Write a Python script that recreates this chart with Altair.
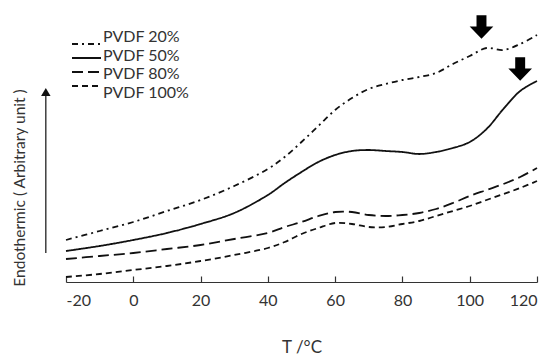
import altair as alt
import pandas as pd

# Temperature grid (°C)
T = [-20, -10, 0, 10, 20, 30, 40, 45, 50, 55, 60, 65, 70, 75, 80, 85, 90, 95, 100, 105, 110, 115, 120]

# Endothermic signal (arbitrary units)
pvdf20 = [42, 51, 60, 71, 82, 96, 113, 125, 140, 156, 172, 184, 193, 198, 202, 205, 209, 218, 226, 234, 232, 238, 247]
pvdf50 = [31, 36, 42, 49, 58, 69, 87, 99, 110, 120, 127, 131, 132, 131, 130, 128, 130, 134, 140, 153, 173, 191, 201]
pvdf80 = [23, 26, 29, 33, 37, 43, 49, 55, 60, 66, 70, 70, 67, 66, 67, 69, 73, 79, 86, 92, 98, 105, 114]
pvdf100 = [5, 8, 12, 16, 21, 27, 34, 40, 48, 54, 59, 58, 55, 55, 58, 61, 66, 71, 76, 82, 88, 94, 101]

series_names = ["PVDF 20%", "PVDF 50%", "PVDF 80%", "PVDF 100%"]
series_values = [pvdf20, pvdf50, pvdf80, pvdf100]
dashes = [[6, 4, 2, 4], [1, 0], [11, 5], [6, 4]]

# Peak markers (arrows)
arrow_T = [103.5, 115]
arrow_y = [255, 213]

# x tick positions
tick_T = [-20, 0, 20, 40, 60, 80, 100, 120]

# Y-axis direction arrow
yarrow_T = -26.0
yarrow_lo = 29
yarrow_hi = 190

rows = []
for name, vals in zip(series_names, series_values):
    for t, v in zip(T, vals):
        rows.append({"T": t, "v": v, "series": name})
df = pd.DataFrame(rows)

XMIN, XMAX = -20, 120
YMIN, YMAX = 0, 266
PLOT_W, PLOT_H = 471, 266
xs = alt.Scale(domain=[XMIN, XMAX], nice=False, zero=False)
ys = alt.Scale(domain=[YMIN, YMAX], nice=False, zero=False)

TXT = "#333333"
FONT = "Lato"
dash_scale = alt.Scale(domain=series_names, range=dashes)

x_axis = alt.Axis(title="T /\u00b0C", values=tick_T, ticks=False, grid=False,
                  domainColor="#333333", domainWidth=1.2,
                  labelExpr="replace(datum.label, '\u2212', '-')",
                  labelFont=FONT, labelFontSize=16, labelColor=TXT, labelPadding=10,
                  titleFont=FONT, titleFontSize=17, titleFontWeight="normal",
                  titleColor=TXT, titlePadding=31)

# Inward ticks: a second (top-oriented) axis moved down onto the bottom edge
tick_axis = alt.Axis(orient="top", offset=-PLOT_H, values=tick_T, labels=False, domain=False,
                     grid=False, ticks=True, tickSize=6, tickColor="#333333", tickWidth=1.2,
                     title=None)

lines = alt.Chart(df).mark_line(interpolate="catmull-rom", strokeWidth=1.8, color="#111111").encode(
    x=alt.X("T:Q", scale=xs, axis=x_axis),
    y=alt.Y("v:Q", scale=ys, axis=None),
    strokeDash=alt.StrokeDash("series:N", scale=dash_scale, legend=None),
    detail="series:N",
)

tk_df = pd.DataFrame({"T": tick_T})
tick_layer = alt.Chart(tk_df).mark_point(opacity=0).encode(
    x=alt.X("T:Q", scale=xs, axis=tick_axis),
    y=alt.value(0),
)

# Manual legend (rows placed by a point scale)
leg_df = pd.DataFrame({"series": series_names})
leg_y = alt.Y("series:N", scale=alt.Scale(domain=series_names, range=[21, 77], padding=0), axis=None)
leg_lines = alt.Chart(leg_df).mark_rule(strokeWidth=1.8, color="#111111").encode(
    x=alt.value(6), x2=alt.value(35), y=leg_y,
    strokeDash=alt.StrokeDash("series:N", scale=dash_scale, legend=None),
)
leg_text = alt.Chart(leg_df).mark_text(align="left", baseline="middle", font=FONT, fontSize=16,
                                       color=TXT).encode(
    x=alt.value(37), y=leg_y, text="series:N"
)

# Vertical arrow shaft of the y direction indicator
shaft = alt.Chart(pd.DataFrame({"T": [yarrow_T], "lo": [yarrow_lo], "hi": [yarrow_hi]})).mark_rule(
    color="#222222", strokeWidth=1.3
).encode(x=alt.X("T:Q", scale=xs, axis=None),
         y=alt.Y("lo:Q", scale=ys, axis=None), y2="hi:Q")

arrow_path = "M-0.42,-1 L0.42,-1 L0.42,-0.05 L1,-0.05 L0,1 L-1,-0.05 L-0.42,-0.05 Z"
arrows = alt.Chart(pd.DataFrame({"T": arrow_T, "v": arrow_y})).mark_point(
    shape=arrow_path, filled=True, color="#000000", opacity=1, size=560, strokeWidth=0
).encode(x=alt.X("T:Q", scale=xs, axis=None),
         y=alt.Y("v:Q", scale=ys, axis=None))

yhead = alt.Chart(pd.DataFrame({"T": [yarrow_T], "v": [yarrow_hi]})).mark_point(
    shape="triangle-up", filled=True, color="#111111", opacity=1, size=90
).encode(x=alt.X("T:Q", scale=xs, axis=None),
         y=alt.Y("v:Q", scale=ys, axis=None))

ytitle = alt.Chart(pd.DataFrame({"t": ["Endothermic ( Arbitrary unit )"]})).mark_text(
    angle=270, font=FONT, fontSize=15.5, color=TXT, align="center", baseline="middle"
).encode(x=alt.value(-46), y=alt.value(172), text="t:N")

chart = alt.layer(lines, tick_layer, shaft, arrows, yhead, ytitle, leg_lines, leg_text).resolve_scale(
    y="independent"
).resolve_axis(
    x="independent"
).properties(
    width=PLOT_W, height=PLOT_H,
    padding={"left": 5, "top": 5, "right": 2, "bottom": 2},
).configure_view(stroke=None)

chart.save("out.html", embed_options={"renderer": "svg", "actions": False})
